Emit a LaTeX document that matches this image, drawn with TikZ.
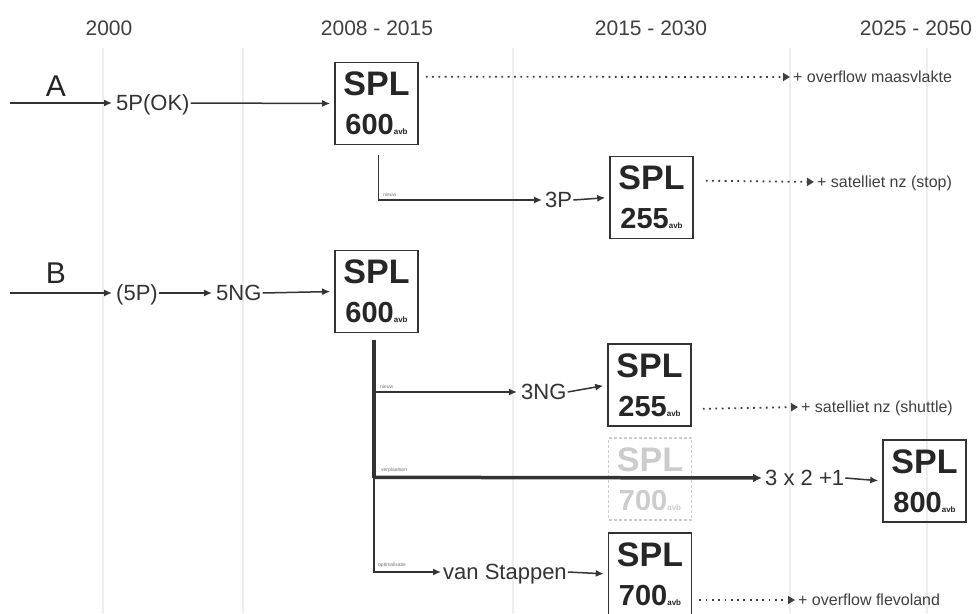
\documentclass[tikz,border=0pt]{standalone}
\usepackage{fontspec}
\setmainfont{Liberation Sans}
\usetikzlibrary{arrows.meta,calc}
\newcommand\splcontent[1]{{\fontsize{34}{34}\selectfont\bfseries SPL}\\{\fontsize{29}{29}\selectfont\bfseries #1}{\fontsize{8}{8}\selectfont\bfseries avb}}
\begin{document}
\begin{tikzpicture}[x=1pt,y=-1pt,
  hdr/.style={font=\fontsize{21}{21}\selectfont, text=black!75, inner sep=0},
  lbl/.style={font=\fontsize{22}{22}\selectfont, text=black!80, inner sep=1pt, anchor=west, text height=17pt, text depth=2pt},
  big/.style={font=\fontsize{30}{30}\selectfont, text=black!85, inner sep=0},
  note/.style={font=\fontsize{16}{16}\selectfont, text=black!75, inner sep=1pt, anchor=west, text height=11pt, text depth=0pt},
  tinylbl/.style={font=\fontsize{5}{5}\selectfont, text=black!55, inner sep=0, anchor=south west},
  splbox/.style={draw=black!80, line width=1.6pt, minimum width=83pt, minimum height=82pt, inner sep=0, align=center, text=black!85, font=\fontsize{34}{39}\selectfont},
  ghost/.style={splbox, draw=black!20, text=black!20, densely dashed},
  arr/.style={draw=black!80, line width=1.5pt, -{Latex[length=8pt,width=7pt]}},
  thickarr/.style={draw=black!80, line width=3.5pt, -{Latex[length=9pt,width=9pt]}},
  dots/.style={draw=black!75, line width=1.8pt, dash pattern=on 1.8pt off 4.5pt, -{Triangle[length=7pt,width=8pt]}},
  gridline/.style={draw=black!7, line width=2pt}
]
\useasboundingbox (0,0) rectangle (979,613);
\fill[white] (0,0) rectangle (979,613);

% faint column lines
\foreach \gx in {103,243,513,790,927} \draw[gridline] (\gx,48) -- (\gx,613);

% headers
\node[hdr] (h1) at (109,28) {2000};
\node[hdr] (h2) at (377,28) {2008 - 2015};
\node[hdr] (h3) at (651,28) {2015 - 2030};
\node[hdr] (h4) at (916,28) {2025 - 2050};

% ---------- A ----------
\node[big] (A) at (56,86) {A};
\coordinate (As) at (10,103);
\node[lbl] (a5p) at (115,103) {5P(OK)};
\node[splbox] (a1) at (376.5,103.5) {\splcontent{600}};
\draw[arr, shorten >=3pt] (As) -- (a5p.west);
\draw[arr, shorten >=4pt] (a5p.east) -- (a1.west);

\node[note] (n1) at (792,77) {+ overflow maasvlakte};
\coordinate (d1) at ($(a1.north east)+(7,15)$);
\draw[dots, shorten >=2pt] (d1) -- (n1.west);

\coordinate (ab) at ($(a1.south)+(2,10)$);
\node[lbl] (a3p) at (544,200) {3P};
\node[splbox] (a2) at (651.5,197.5) {\splcontent{255}};
\draw[arr, shorten >=2pt] (ab) |- (a3p.west);
\node[tinylbl] (t1) at (383,197) {nieuw};
\draw[arr, shorten >=4pt] (a3p.east) -- (a2.west);

\node[note] (n2) at (816,182) {+ satelliet nz (stop)};
\coordinate (d2) at ($(a2.north east)+(12,25)$);
\draw[dots, shorten >=2pt] (d2) -- (n2.west);

% ---------- B ----------
\node[big] (B) at (56,273) {B};
\coordinate (Bs) at (10,293);
\node[lbl] (b5p) at (115,293) {(5P)};
\node[lbl] (b5ng) at (215,293) {5NG};
\node[splbox] (b1) at (376.5,291.5) {\splcontent{600}};
\draw[arr, shorten >=3pt] (Bs) -- (b5p.west);
\draw[arr, shorten >=3pt] (b5p.east) -- (b5ng.west);
\draw[arr, shorten >=4pt] (b5ng.east) -- (b1.west);

\coordinate (tr0) at ($(b1.south)+(-2.5,7)$);
\coordinate (tr1) at ($(tr0)+(0,138)$);

% 3NG branch
\node[lbl] (b3ng) at (520,392) {3NG};
\node[splbox] (b2) at (649.5,385) {\splcontent{255}};
\draw[arr, shorten >=3pt] (tr0) |- (b3ng.west);
\node[tinylbl] (t2) at (380,389) {nieuw};
\draw[arr, shorten >=4pt] (b3ng.east) -- (b2.west);
\node[note] (n3) at (800,407) {+ satelliet nz (shuttle)};
\coordinate (d3) at ($(b2.south east)+(11,-18)$);
\draw[dots, shorten >=2pt] (d3) -- (n3.west);

% ghost box and 3x2+1 branch
\node[ghost] (g1) at (650,479) {\splcontent{700}};
\node[lbl] (b321) at (764,478) {3 x 2 +1};
\node[splbox] (b3) at (924.5,481) {\splcontent{800}};
\draw[line width=4.5pt, black!80] (tr0) -- (tr1);
\draw[thickarr, shorten >=2pt] ($(tr0)+(0,137)$) -- (b321.west);
\node[tinylbl] (t3) at (381,473) {verplaatsen};
\draw[arr, shorten >=4pt] (b321.east) -- (b3.west);

% van Stappen branch
\node[lbl] (bvs) at (442,572) {van Stappen};
\node[splbox] (b4) at (650,574) {\splcontent{700}};
\draw[arr, shorten >=1pt] (tr1) |- (bvs.west);
\node[tinylbl] (t4) at (378,568) {optimalisatie};
\draw[arr, shorten >=4pt] (bvs.east) -- (b4.west);
\node[note] (n4) at (797,600) {+ overflow flevoland};
\coordinate (d4) at ($(b4.east)+(7,26)$);
\draw[dots, shorten >=2pt] (d4) -- (n4.west);
\end{tikzpicture}
\end{document}
